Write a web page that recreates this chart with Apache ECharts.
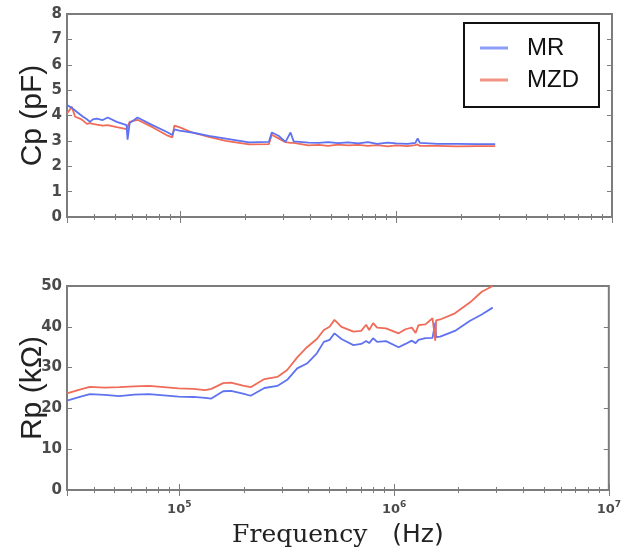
<!DOCTYPE html>
<html>
<head>
<meta charset="utf-8">
<script src="https://cdn.jsdelivr.net/npm/echarts@6/dist/echarts.min.js"></script>
<style>
html,body{margin:0;padding:0;background:#fff;}
#chart{width:624px;height:556px;}
</style>
</head>
<body>
<div id="chart"></div>
<script>
// ---- Data ----
const seriesNames = ['MR', 'MZD'];

// Top panel: Cp (pF)
const cpFreq = [3.0e4, 3.16e4, 3.27e4, 3.44e4, 3.56e4, 3.71e4, 3.83e4, 3.95e4, 4.12e4, 4.39e4,
  4.63e4, 5.1e4, 5.66e4, 5.72e4, 5.85e4, 5.97e4, 6.36e4, 7.46e4, 8.66e4, 9.22e4,
  9.42e4, 9.93e4, 1.14e5, 1.36e5, 1.63e5, 2.09e5, 2.58e5, 2.66e5, 2.86e5, 3.08e5,
  3.25e5, 3.36e5, 3.93e5, 4.4e5, 4.85e5, 5.4e5, 6.0e5, 6.7e5, 7.41e5, 8.2e5,
  9.16e5, 1.0e6, 1.13e6, 1.23e6, 1.26e6, 1.29e6, 1.56e6, 1.92e6, 2.38e6, 2.88e6];
const cpMR = [4.41, 4.30, 4.20, 4.05, 3.95, 3.85, 3.75, 3.85, 3.88, 3.82,
  3.92, 3.75, 3.62, 3.05, 3.70, 3.75, 3.92, 3.62, 3.36, 3.23,
  3.45, 3.40, 3.33, 3.20, 3.09, 2.94, 2.96, 3.33, 3.20, 2.96,
  3.33, 2.98, 2.93, 2.92, 2.95, 2.91, 2.94, 2.90, 2.95, 2.88,
  2.93, 2.90, 2.88, 2.92, 3.10, 2.92, 2.88, 2.88, 2.87, 2.87];
const cpMZD = [4.08, 4.34, 3.95, 3.88, 3.80, 3.67, 3.70, 3.67, 3.64, 3.60,
  3.62, 3.54, 3.46, 3.44, 3.75, 3.78, 3.83, 3.54, 3.23, 3.14,
  3.60, 3.54, 3.33, 3.16, 3.00, 2.86, 2.87, 3.24, 3.10, 2.95,
  2.92, 2.92, 2.82, 2.84, 2.80, 2.85, 2.82, 2.84, 2.80, 2.83,
  2.78, 2.82, 2.79, 2.83, 2.86, 2.80, 2.80, 2.78, 2.79, 2.79];

// Bottom panel: Rp (kΩ)
const rpFreq = [3.0e4, 3.44e4, 3.83e4, 4.49e4, 5.26e4, 6.17e4, 7.23e4, 8.47e4, 9.93e4, 1.16e5,
  1.32e5, 1.41e5, 1.60e5, 1.74e5, 1.98e5, 2.15e5, 2.49e5, 2.86e5, 3.18e5, 3.54e5,
  3.93e5, 4.37e5, 4.71e5, 5.01e5, 5.28e5, 5.69e5, 6.47e5, 7.03e5, 7.41e5, 7.66e5,
  7.99e5, 8.34e5, 9.17e5, 1.05e6, 1.13e6, 1.21e6, 1.26e6, 1.30e6, 1.40e6, 1.51e6,
  1.54e6, 1.555e6, 1.57e6, 1.64e6, 1.92e6, 2.26e6, 2.56e6, 2.88e6];
const rpMR = [21.9, 22.8, 23.5, 23.3, 23.0, 23.4, 23.5, 23.2, 22.9, 22.8,
  22.6, 22.4, 24.2, 24.3, 23.6, 23.1, 25.0, 25.5, 27.0, 29.8,
  31.0, 33.5, 36.3, 36.8, 38.4, 37.0, 35.5, 35.8, 36.5, 36.0,
  37.2, 36.3, 36.5, 35.0, 35.8, 36.6, 36.0, 36.8, 37.2, 37.3,
  37.3, 41.0, 37.5, 37.6, 39.0, 41.5, 43.0, 44.7];
const rpMZD = [23.7, 24.6, 25.3, 25.1, 25.2, 25.4, 25.5, 25.2, 24.9, 24.8,
  24.5, 24.8, 26.2, 26.3, 25.6, 25.2, 27.2, 27.7, 29.4, 32.5,
  35.0, 37.0, 39.2, 40.0, 41.7, 40.0, 38.8, 39.0, 40.5, 39.2,
  40.9, 39.8, 39.6, 38.4, 39.4, 39.8, 38.5, 40.4, 40.6, 42.1,
  42.0, 36.6, 41.6, 41.8, 43.3, 46.0, 48.6, 50.0];

const xMin = 3e4, xMax = 1e7;
const cpTicks = {min: 0, max: 8, interval: 1};
const rpTicks = {min: 0, max: 50, interval: 10};
const yNames = ['Cp (pF)', 'Rp (kΩ)'];

// ---- Styling ----
const blue = '#5f72ef';
const red = '#f06c58';
const frame = '#7c7c7c';
const labelColor = '#4a4a4a';

function pairs(xs, ys) { return xs.map((x, i) => [x, ys[i]]); }

const supFmt = v => {
  const e = Math.round(Math.log10(v));
  return '{b|10}{s|' + e + '}';
};

function xAxisDef(gridIndex, position, showLabels, name) {
  return {
    type: 'log', logBase: 10, gridIndex, position, min: xMin, max: xMax,
    axisLine: {show: false},
    axisTick: {show: true, inside: true, length: 6, lineStyle: {color: frame, width: 1}},
    minorTick: {show: true, splitNumber: 9, length: 3, lineStyle: {color: frame, width: 1}},
    splitLine: {show: false}, minorSplitLine: {show: false},
    axisLabel: showLabels ? {
      show: true, showMinLabel: false, showMaxLabel: true, margin: 10,
      formatter: supFmt,
      rich: {
        b: {fontFamily: 'DejaVu Sans', fontSize: 13, fontWeight: 'bold', color: labelColor, verticalAlign: 'bottom', lineHeight: 16},
        s: {fontFamily: 'DejaVu Sans', fontSize: 9, fontWeight: 'bold', color: labelColor, verticalAlign: 'top', padding: [0, 0, 8, 0], lineHeight: 16}
      }
    } : {show: false},
    name: name || '',
    nameLocation: 'middle', nameGap: 33,
    nameTextStyle: name ? {
      rich: {
        f: {fontFamily: 'DejaVu Serif', fontSize: 25, color: '#222'},
        h: {fontFamily: 'DejaVu Sans', fontSize: 25, color: '#222'}
      }
    } : {}
  };
}

function yAxisDef(gridIndex, position, t, name) {
  return {
    type: 'value', gridIndex, position, min: t.min, max: t.max, interval: t.interval,
    axisLine: {show: false},
    axisTick: {show: true, inside: true, length: 5, lineStyle: {color: frame, width: 1}},
    splitLine: {show: false},
    axisLabel: position === 'left' ? {
      show: true, margin: 5, fontFamily: 'DejaVu Sans', fontSize: 15, fontWeight: 'bold', color: labelColor
    } : {show: false},
    name: name || '',
    nameLocation: 'middle', nameRotate: 90, nameGap: 19,
    nameMoveOverlap: false,
    nameTextStyle: {fontFamily: 'Liberation Sans', fontSize: 30, color: '#222'}
  };
}

const chart = echarts.init(document.getElementById('chart'), null, {renderer: 'canvas'});
chart.setOption({
  backgroundColor: '#ffffff',
  animation: false,
  grid: [
    {left: 67, top: 14, width: 545, height: 203, show: true, borderColor: frame, borderWidth: 2, backgroundColor: 'transparent'},
    {left: 67, top: 286, width: 545, height: 204, show: true, borderColor: frame, borderWidth: 2, backgroundColor: 'transparent'}
  ],
  xAxis: [
    xAxisDef(0, 'bottom', false),
    xAxisDef(0, 'top', false),
    xAxisDef(1, 'bottom', true, '{f|Frequency}{h|\u3000(Hz)}'),
    xAxisDef(1, 'top', false)
  ],
  yAxis: [
    yAxisDef(0, 'left', cpTicks, yNames[0]),
    yAxisDef(0, 'right', cpTicks),
    yAxisDef(1, 'left', rpTicks, yNames[1]),
    yAxisDef(1, 'right', rpTicks)
  ],
  legend: {
    orient: 'vertical', left: 464, top: 23,
    padding: [13, 20, 15, 16],
    icon: 'rect',
    itemWidth: 28, itemHeight: 3, itemGap: 8,
    borderColor: '#111', borderWidth: 2, backgroundColor: '#fff',
    textStyle: {fontFamily: 'Liberation Sans', fontSize: 24, color: '#111', padding: [0, 0, 0, 14], lineHeight: 24},
    data: [
      {name: seriesNames[0], itemStyle: {color: '#8e9df6'}},
      {name: seriesNames[1], itemStyle: {color: '#f39585'}}
    ]
  },
  series: [
    {name: seriesNames[1], type: 'line', xAxisIndex: 0, yAxisIndex: 0, data: pairs(cpFreq, cpMZD),
      symbol: 'none', showSymbol: false, color: red, lineStyle: {color: red, width: 1.8}},
    {name: seriesNames[0], type: 'line', xAxisIndex: 0, yAxisIndex: 0, data: pairs(cpFreq, cpMR),
      symbol: 'none', showSymbol: false, color: blue, lineStyle: {color: blue, width: 1.8}},
    {name: seriesNames[0], type: 'line', xAxisIndex: 2, yAxisIndex: 2, data: pairs(rpFreq, rpMR),
      symbol: 'none', showSymbol: false, color: blue, lineStyle: {color: blue, width: 1.8}},
    {name: seriesNames[1], type: 'line', xAxisIndex: 2, yAxisIndex: 2, data: pairs(rpFreq, rpMZD),
      symbol: 'none', showSymbol: false, color: red, lineStyle: {color: red, width: 1.8}}
  ]
});
</script>
</body>
</html>
